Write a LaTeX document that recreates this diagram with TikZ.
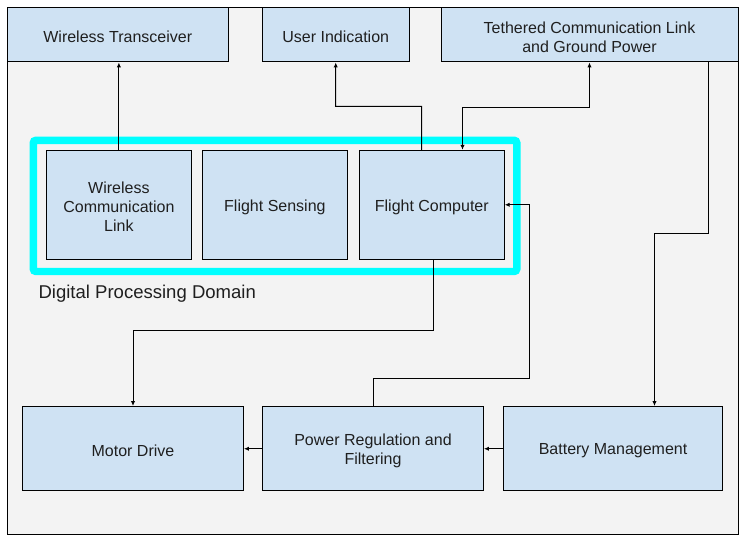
\documentclass[tikz,border=0pt]{standalone}
\usepackage{fontspec}
\setmainfont{Liberation Sans}
\usetikzlibrary{fit,arrows.meta}
\definecolor{boxblue}{HTML}{CFE2F3}
\definecolor{bggray}{HTML}{F3F3F3}
\definecolor{txtcol}{HTML}{1F1F1F}
\definecolor{domcyan}{HTML}{00FFFF}
\begin{document}
\begin{tikzpicture}[x=0.75pt,y=-0.75pt,
  box/.style={draw=black, line width=0.75pt, fill=boxblue, inner sep=0pt},
  boxtext/.style={inner sep=0pt, yshift=-1.6pt, align=center, text=txtcol, font=\fontsize{12}{14.25}\selectfont},
  arr/.style={draw=black, line width=0.75pt, -{Latex[length=3.6pt,width=3.2pt]}},
  biarr/.style={draw=black, line width=0.75pt, {Latex[length=3.6pt,width=3.2pt]}-{Latex[length=3.6pt,width=3.2pt]}},
  domainframe/.style={draw=domcyan, line width=5.6pt, rounded corners=2pt},
  caption/.style={anchor=base west, inner sep=0pt, text=txtcol, font=\fontsize{13.9}{16}\selectfont}]

\useasboundingbox (0,0) rectangle (744,541);
\fill[white] (0,0) rectangle (744,541);
\draw[fill=bggray, line width=0.75pt] (7.5,7.5) rectangle (738,535);

% top boxes
\node[box, fit={(7.5,7.5)(228,62)}] (wt) {};
\node[boxtext] (wtt) at (wt.center) {Wireless Transceiver};
\node[box, fit={(262,7.5)(409.5,62)}] (ui) {};
\node[boxtext] (uit) at (ui.center) {User Indication};
\node[box, fit={(441,7.5)(738,62)}] (te) {};
\node[boxtext] (tet) at (te.center) {Tethered Communication Link\\and Ground Power};

% digital processing domain
\draw[domainframe] (33.3,140.3) rectangle (516.8,271.5);
\node[caption] (cap) at (38.3,299) {Digital Processing Domain};

\node[box, fit={(46.3,150.3)(191.5,259.3)}] (wcl) {};
\node[boxtext] (wclt) at (wcl.center) {Wireless\\Communication\\Link};
\node[box, fit={(202.3,150.3)(347.5,259.3)}] (fs) {};
\node[boxtext] (fst) at (fs.center) {Flight Sensing};
\node[box, fit={(359.3,150.3)(504.3,259.3)}] (fc) {};
\node[boxtext] (fct) at (fc.center) {Flight Computer};

% bottom boxes
\node[box, fit={(22.5,406.5)(243.5,491)}] (md) {};
\node[boxtext] (mdt) at (md.center) {Motor Drive};
\node[box, fit={(262.5,406.5)(483.5,491)}] (pr) {};
\node[boxtext] (prt) at (pr.center) {Power Regulation and\\Filtering};
\node[box, fit={(503.3,406.5)(722.8,491)}] (bm) {};
\node[boxtext] (bmt) at (bm.center) {Battery Management};

% connectors
\draw[arr] (wcl.north) -- (wcl.north |- wt.south);
\draw[arr] (fc.north -| 421.5,0) |- (335.5,106.5) -- (ui.south);
\draw[biarr] (te.south) |- (462.5,107.5) -- (fc.north -| 462.5,0);
\draw[arr] (te.south -| 708.5,0) |- (654.5,233.5) -- (bm.north -| 654.5,0);
\draw[arr] (fc.south -| 433,0) |- (133,331) -- (md.north);
\draw[arr] (pr.north) |- (529.5,379) |- (fc.east);
\draw[arr] (bm.west) -- (pr.east);
\draw[arr] (pr.west) -- (md.east);
\end{tikzpicture}
\end{document}
